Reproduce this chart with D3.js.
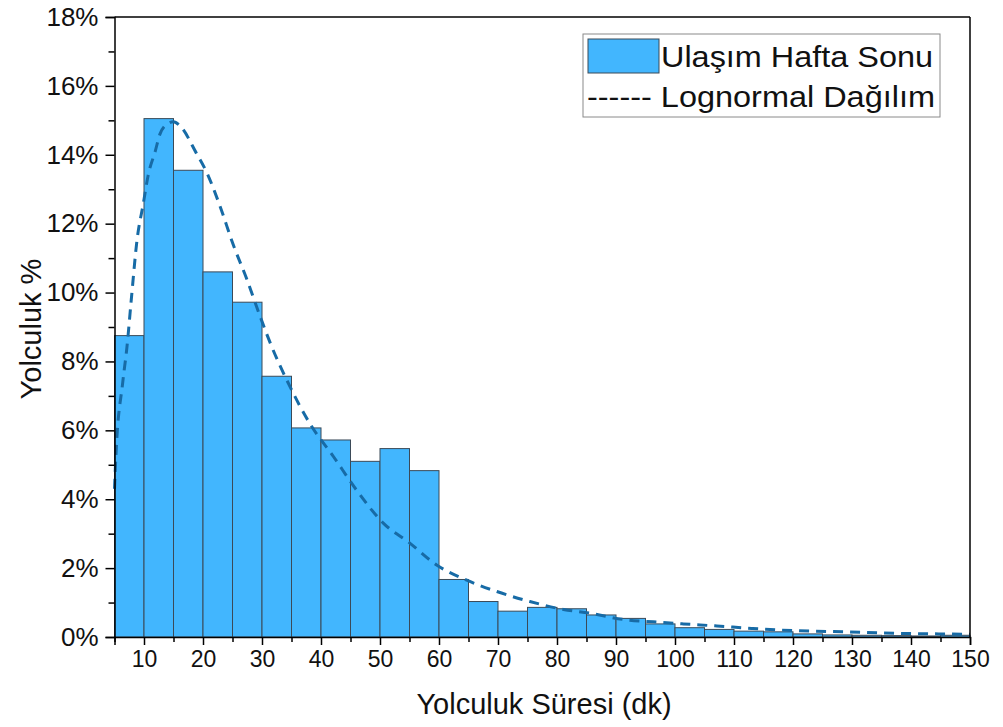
<!DOCTYPE html>
<html>
<head>
<meta charset="utf-8">
<script src="https://cdn.jsdelivr.net/npm/d3@7"></script>
<style>
  html, body { margin: 0; padding: 0; background: #fff; }
  svg { display: block; font-family: "Liberation Sans", Arial, sans-serif; }
</style>
</head>
<body>
<svg id="chart" width="1003" height="727"></svg>
<script>
// ---- data ----
const binStarts = [5,10,15,20,25,30,35,40,45,50,55,60,65,70,75,80,85,90,95,100,105,110,115,120,125,130,135,140,145];
const binWidth = 5;
const barValues = [8.75,15.05,13.55,10.6,9.72,7.57,6.07,5.72,5.1,5.47,4.83,1.67,1.03,0.75,0.86,0.82,0.64,0.54,0.38,0.27,0.22,0.17,0.15,0.09,0.06,0.05,0.04,0.03,0.05];
const curveX = [5,5.25,6.4,7.1,7.9,8.8,9.9,10.7,11.9,12.7,14,15,16.1,18.9,20.6,22.9,25.1,27.4,29.7,31.6,34.2,38.1,42.1,46,50.6,55.1,59.6,64.7,69.8,75.4,81.1,85.6,91.2,96.3,101.4,107.1,113,118.1,123.4,128.8,134.2,139.5,144.9,150];
const curveY = [4.3,5.3,7.4,8.4,9.9,11.5,12.6,13.4,14.1,14.6,14.9,14.96,14.84,14.04,13.5,12.5,11.4,10.4,9.3,8.45,7.46,6.2,5.24,4.27,3.3,2.72,2.09,1.65,1.32,1.03,0.80,0.69,0.51,0.44,0.38,0.32,0.25,0.20,0.17,0.15,0.12,0.10,0.09,0.08];
const xTicks = [10,20,30,40,50,60,70,80,90,100,110,120,130,140,150];
const xMinorTicks = [5,15,25,35,45,55,65,75,85,95,105,115,125,135,145];
const yTicks = [0,2,4,6,8,10,12,14,16,18];
const yMinorTicks = [1,3,5,7,9,11,13,15,17];
const seriesNames = ["Ulaşım Hafta Sonu", "------ Lognormal Dağılım"];
const xTitle = "Yolculuk Süresi (dk)";
const yTitle = "Yolculuk %";

// ---- layout ----
const L = 114.5, R = 970, T = 17, B = 637;
const svg = d3.select("#chart");
const x = d3.scaleLinear().domain([5,150]).range([L,R]);
const y = d3.scaleLinear().domain([0,18]).range([B,T]);

// bars
svg.append("g").selectAll("rect").data(binStarts).join("rect")
  .attr("x", d => x(d))
  .attr("y", (d,i) => y(barValues[i]))
  .attr("width", d => x(d+binWidth) - x(d))
  .attr("height", (d,i) => B - y(barValues[i]))
  .attr("fill", "#42b6fe")
  .attr("stroke", "#3b4a58")
  .attr("stroke-width", 1);

// curve
const pts = curveX.map((v,i) => [v, curveY[i]]);
svg.append("path")
  .datum(pts)
  .attr("d", d3.line().x(d => x(d[0])).y(d => y(d[1])).curve(d3.curveMonotoneX))
  .attr("fill", "none")
  .attr("stroke", "#176ba6")
  .attr("stroke-width", 3)
  .attr("stroke-dasharray", "10,7");

// frame top/right
svg.append("line").attr("x1", L).attr("x2", R).attr("y1", T).attr("y2", T).attr("stroke", "#000").attr("stroke-width", 1.5);
svg.append("line").attr("x1", R).attr("x2", R).attr("y1", T).attr("y2", B).attr("stroke", "#000").attr("stroke-width", 1.5);

// axes
const xAxis = svg.append("g").attr("transform", `translate(0,${B})`)
  .call(d3.axisBottom(x).tickValues(xTicks).tickSize(8).tickPadding(6).tickFormat(d3.format("d")));
const xMinor = svg.append("g").attr("transform", `translate(0,${B})`)
  .call(d3.axisBottom(x).tickValues(xMinorTicks).tickSize(5).tickFormat(""));
xMinor.select(".domain").remove();

const yAxis = svg.append("g").attr("transform", `translate(${L},0)`)
  .call(d3.axisLeft(y).tickValues(yTicks).tickSize(9).tickPadding(7).tickFormat(d => d + "%"));
const yMinor = svg.append("g").attr("transform", `translate(${L},0)`)
  .call(d3.axisLeft(y).tickValues(yMinorTicks).tickSize(6).tickFormat(""));
yMinor.select(".domain").remove();

svg.selectAll(".domain").attr("stroke", "#000").attr("stroke-width", 1.5);
svg.selectAll(".tick line").attr("stroke", "#000").attr("stroke-width", 1.5);
xAxis.selectAll(".tick text").attr("font-size", 23).attr("fill", "#111").attr("font-family", "Liberation Sans, Arial, sans-serif");
yAxis.selectAll(".tick text").attr("font-size", 26).attr("fill", "#111").attr("font-family", "Liberation Sans, Arial, sans-serif");

// titles
svg.append("text").attr("x", 544).attr("y", 714).attr("text-anchor", "middle")
  .attr("font-size", 29).attr("fill", "#111").text(xTitle);
svg.append("text").attr("transform", "translate(41,329) rotate(-90)").attr("text-anchor", "middle")
  .attr("font-size", 29).attr("fill", "#111").text(yTitle);

// legend
const lg = svg.append("g");
lg.append("rect").attr("x", 583).attr("y", 34).attr("width", 357).attr("height", 83)
  .attr("fill", "#fff").attr("stroke", "#8a8a8a").attr("stroke-width", 1);
lg.append("rect").attr("x", 588).attr("y", 39).attr("width", 71).attr("height", 34)
  .attr("fill", "#42b6fe").attr("stroke", "#3b4a58").attr("stroke-width", 1);
lg.append("text").attr("x", 661).attr("y", 67).attr("font-size", 30).attr("fill", "#111")
  .attr("textLength", 272).attr("lengthAdjust", "spacingAndGlyphs").text(seriesNames[0]);
lg.append("text").attr("x", 587).attr("y", 107).attr("font-size", 30).attr("fill", "#111")
  .attr("textLength", 348).attr("lengthAdjust", "spacingAndGlyphs").text(seriesNames[1]);
</script>
</body>
</html>
